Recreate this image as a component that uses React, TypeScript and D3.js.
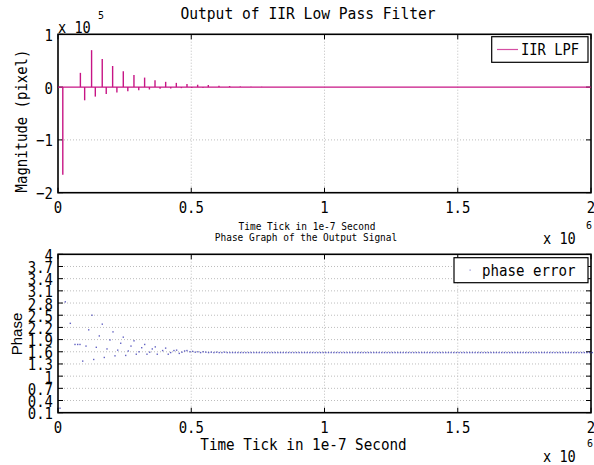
import React from 'react';
import * as d3 from 'd3';

// spikes of the filter output (time tick, magnitude in pixel)
const spikeTimes = [18000, 84000, 100000, 126000, 140000, 166000, 181000, 205000, 221000, 245000, 262000, 285000, 303000, 325000, 343000, 364000, 383000, 404000, 423000, 444000, 463000, 484000, 502000, 524000, 544000, 564000, 604000, 644000, 684000, 724000, 764000, 804000, 844000];
const spikeValues = [-166000, 27000, -25000, 70000, -18000, 53000, -13000, 40000, -10000, 30000, -8000, 23000, -6000, 18000, -4500, 13000, -3000, 10000, -2500, 8000, -2000, 6000, -1500, 4500, -1000, 4000, 2500, 2000, 1200, 800, 600, 400, 300];

// early scattered phase errors
const phaseTimes = [7500, 27400, 46200, 63800, 73900, 82500, 92700, 105100, 115200, 127600, 134000, 143700, 155000, 166200, 173700, 183900, 195100, 206400, 213900, 224000, 235300, 245000, 254000, 263800, 273900, 285200, 293800, 303900, 314100, 325300, 333900, 344100, 353800, 365100, 372500, 392700, 403900, 413700, 422700, 435100, 445100, 455100, 465100, 475100, 483900];
const phaseValues = [0.21, 2.83, 2.30, 1.78, 1.78, 1.78, 1.37, 1.74, 2.14, 2.50, 1.41, 1.71, 1.99, 2.28, 1.46, 1.67, 1.89, 2.09, 1.50, 1.64, 1.81, 1.96, 1.51, 1.62, 1.74, 1.87, 1.54, 1.60, 1.70, 1.78, 1.54, 1.59, 1.67, 1.72, 1.54, 1.63, 1.69, 1.54, 1.58, 1.63, 1.64, 1.56, 1.59, 1.62, 1.63];
// settled phase error, one sample every 10000 ticks from 495000
const tailStart = 495000;
const tailStep = 10000;
const tailValues = [
  1.60, 1.61, 1.59, 1.60, 1.58, 1.60, 1.59, 1.58, 1.59, 1.58, 1.59, 1.58, 1.58, 1.59, 1.58, 1.58, 1.58, 1.58, 1.58, 1.58,
  1.58, 1.58, 1.58, 1.58, 1.58, 1.58, 1.58, 1.58, 1.58, 1.58, 1.58, 1.58, 1.58, 1.58, 1.58, 1.58, 1.58, 1.58, 1.58, 1.58,
  1.58, 1.58, 1.58, 1.58, 1.58, 1.58, 1.58, 1.58, 1.58, 1.58, 1.58, 1.58, 1.58, 1.58, 1.58, 1.58, 1.58, 1.58, 1.58, 1.58,
  1.58, 1.58, 1.58, 1.58, 1.58, 1.58, 1.58, 1.58, 1.58, 1.58, 1.58, 1.58, 1.58, 1.58, 1.58, 1.58, 1.58, 1.58, 1.58, 1.58,
  1.58, 1.58, 1.58, 1.58, 1.58, 1.58, 1.58, 1.58, 1.58, 1.58, 1.58, 1.58, 1.58, 1.58, 1.58, 1.58, 1.58, 1.58, 1.58, 1.58,
  1.58, 1.58, 1.58, 1.58, 1.58, 1.58, 1.58, 1.58, 1.58, 1.58, 1.58, 1.58, 1.58, 1.58, 1.58, 1.58, 1.58, 1.58, 1.58, 1.58,
  1.58, 1.58, 1.58, 1.58, 1.58, 1.58, 1.58, 1.58, 1.58, 1.58, 1.58, 1.58, 1.58, 1.58, 1.58, 1.58, 1.58, 1.58, 1.58, 1.58,
  1.58, 1.58, 1.58, 1.58, 1.58, 1.58, 1.58, 1.58, 1.58, 1.58, 1.58, 1.58
];

const xTicks = [0, 500000, 1000000, 1500000, 2000000];
const xTickLabels = ['0', '0.5', '1', '1.5', '2'];
const magTicks = [-200000, -100000, 0, 100000];
const magTickLabels = ['\u22122', '\u22121', '0', '1'];
const phaseTicks = [0.1, 0.4, 0.7, 1, 1.3, 1.6, 1.9, 2.2, 2.5, 2.8, 3.1, 3.4, 3.7, 4];
const phaseTickLabels = ['0.1', '0.4', '0.7', '1', '1.3', '1.6', '1.9', '2.2', '2.5', '2.8', '3.1', '3.4', '3.7', '4'];

const MONO = '"DejaVu Sans Mono", monospace';
const SANS = '"Liberation Sans", Arial, sans-serif';
const LINE = '#c71585';
const DOT = '#3c3cb4';

// monospace text squeezed to a fixed advance per character
const M = ({ x, y, size = 16, cw = 8.6, anchor = 'start', children, rotate = 0 }: any) => {
  const s = String(children);
  return (
    <text
      x={x}
      y={y}
      fontFamily={MONO}
      fontSize={size}
      textAnchor={anchor}
      dominantBaseline="central"
      textLength={s.length * cw}
      lengthAdjust="spacingAndGlyphs"
      transform={rotate ? `rotate(${rotate},${x},${y})` : undefined}
      fill="#000"
    >
      {s}
    </text>
  );
};

const Frame = ({ x, y, ticks, labels, gridY }: any) => {
  const [x0, x1] = x.range();
  const [y0, y1] = y.range();
  return (
    <g>
      {xTicks.slice(1, -1).map(t => (
        <line key={'gx' + t} x1={x(t)} x2={x(t)} y1={y0} y2={y1} stroke="#bdbdbd" strokeDasharray="1,2" />
      ))}
      {gridY.map((t: number) => (
        <line key={'gy' + t} x1={x0} x2={x1} y1={y(t)} y2={y(t)} stroke="#bdbdbd" strokeDasharray="1,2" />
      ))}
      {xTicks.map(t => (
        <g key={'tx' + t}>
          <line x1={x(t)} x2={x(t)} y1={y0} y2={y0 - 5} stroke="#000" />
          <line x1={x(t)} x2={x(t)} y1={y1} y2={y1 + 5} stroke="#000" />
        </g>
      ))}
      {ticks.map((t: number) => (
        <g key={'ty' + t}>
          <line x1={x0} x2={x0 + 5} y1={y(t)} y2={y(t)} stroke="#000" />
          <line x1={x1} x2={x1 - 5} y1={y(t)} y2={y(t)} stroke="#000" />
        </g>
      ))}
      <rect x={x0} y={y1} width={x1 - x0} height={y0 - y1} fill="none" stroke="#000" strokeWidth={1.6} />
      {xTicks.map((t, i) => (
        <M key={'lx' + t} x={x(t)} y={y0 + 15} anchor="middle" size={16.5} cw={8.4}>{xTickLabels[i]}</M>
      ))}
      {ticks.map((t: number, i: number) => (
        <M key={'ly' + t} x={53} y={y(t) + 1} anchor="end" size={16.5} cw={8.4}>{labels[i]}</M>
      ))}
    </g>
  );
};

export default function App() {
  const W = 594, H = 465;
  const x = d3.scaleLinear().domain([0, 2000000]).range([58, 591]);
  const yMag = d3.scaleLinear().domain([-200000, 100000]).range([192.7, 34.3]);
  const yPh = d3.scaleLinear().domain([0.1, 4]).range([412.7, 254.3]);

  const tail = tailValues.map((v, i) => [tailStart + i * tailStep, v]);
  const phase = phaseTimes.map((t, i) => [t, phaseValues[i]]).concat(tail);

  const stem = d3.line<[number, number]>().x(d => x(d[0])).y(d => yMag(d[1]));

  return (
    <svg width={W} height={H} style={{ position: 'absolute', left: 0, top: 0, background: '#fff' }}>
      <rect width={W} height={H} fill="#fff" />

      {/* top panel */}
      <Frame x={x} y={yMag} ticks={magTicks} labels={magTickLabels} gridY={[-100000]} />
      <path d={stem([[0, 0], [2000000, 0]]) || ''} stroke={LINE} strokeWidth={1.2} fill="none" />
      {spikeTimes.map((t, i) => (
        <path key={t} d={stem([[t, 0], [t, spikeValues[i]]]) || ''} stroke={LINE} strokeWidth={1.4} fill="none" />
      ))}
      <M x={308} y={13} anchor="middle" size={16.5} cw={8.8}>Output of IIR Low Pass Filter</M>
      <M x={58} y={27} size={16.5} cw={8.2}>x 10</M>
      <M x={98} y={15} size={11} cw={6}>5</M>
      <M x={21} y={121} anchor="middle" size={16.5} cw={8.4} rotate={-90}>Magnitude (pixel)</M>
      <M x={307} y={226} anchor="middle" size={10.5} cw={5.7}>Time Tick in 1e-7 Second</M>
      <M x={306} y={237} anchor="middle" size={10.5} cw={5.7}>Phase Graph of the Output Signal</M>
      <M x={543} y={238} size={16.5} cw={8.2}>x 10</M>
      <M x={586} y={225} size={11} cw={6}>6</M>

      <rect x={491.7} y={36.7} width={96.3} height={25.6} fill="#fff" stroke="#000" strokeWidth={1.2} />
      <line x1={497} x2={518} y1={49.5} y2={49.5} stroke={LINE} strokeWidth={1.2} opacity={0.75} />
      <M x={521} y={49.5} size={16.5} cw={8.3}>IIR LPF</M>

      {/* bottom panel */}
      <Frame x={x} y={yPh} ticks={phaseTicks} labels={phaseTickLabels} gridY={phaseTicks.slice(1, -1)} />
      {phase.map(([t, v], i) => (
        <rect key={i} x={x(t) - 0.7} y={yPh(v) - 0.7} width={1.4} height={1.4} fill={DOT} opacity={0.8} />
      ))}
      <text x={16} y={334} fontFamily={SANS} fontSize={15} textAnchor="middle" dominantBaseline="central" transform="rotate(-90,16,334)">Phase</text>
      <M x={303.5} y={444} anchor="middle" size={16.5} cw={8.6}>Time Tick in 1e-7 Second</M>
      <M x={543} y={456} size={16.5} cw={8.2}>x 10</M>
      <M x={587} y={443} size={11} cw={6}>6</M>

      <rect x={454} y={257.7} width={134} height={25} fill="#fff" stroke="#000" strokeWidth={1.2} />
      <rect x={469.5} y={269.5} width={1.2} height={1.2} fill={DOT} opacity={0.6} />
      <M x={482} y={270} size={16.5} cw={8.5}>phase error</M>
    </svg>
  );
}
